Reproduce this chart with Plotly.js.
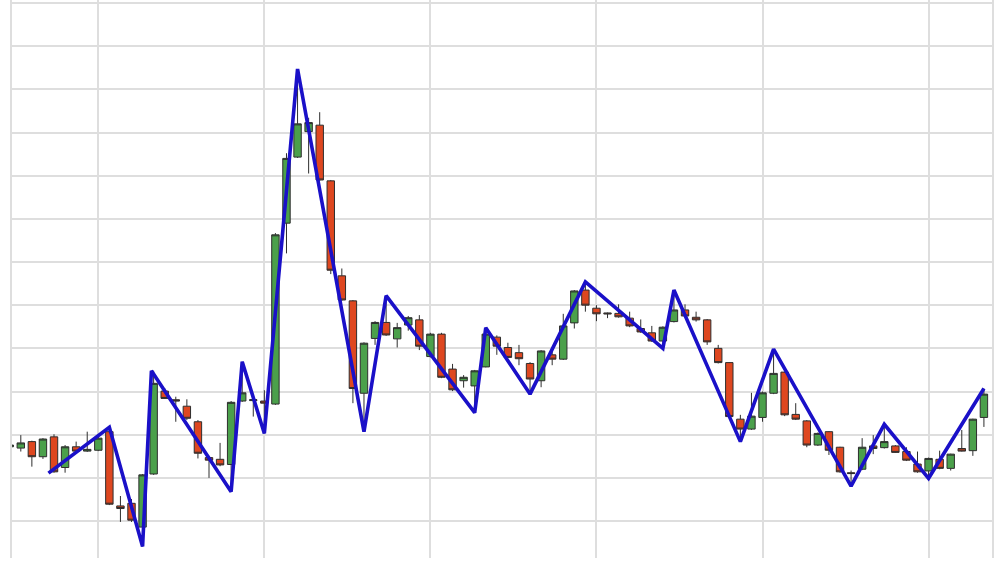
<!DOCTYPE html>
<html>
<head>
<meta charset="utf-8">
<script src="https://cdn.plot.ly/plotly-3.0.1.min.js"></script>
<style>html,body{margin:0;padding:0;background:#fff;}#chart{width:1000px;height:565px;}</style>
</head>
<body>
<div id="chart"></div>
<script>
// candle index (x positions on the category scale)
const idx = [];
for (let i = -1; i <= 87; i++) idx.push(i);

const openV = [27.2,26.9,28.4,24.9,29.5,22.4,27.2,26.2,26.4,30.7,13.5,14.1,8.6,20.9,40.1,38.1,36.6,33.0,24.7,24.3,23.1,37.8,37.9,37.8,37.1,79.0,94.3,100.2,101.7,88.8,66.8,61.0,39.6,52.3,56.0,52.2,55.4,56.6,48.1,53.3,45.2,42.5,41.3,45.7,52.6,50.2,49.0,46.5,42.5,48.5,47.5,55.9,63.5,59.3,58.2,58.1,57.0,54.6,53.6,51.7,56.2,58.9,57.2,56.6,50.0,46.7,33.6,31.3,34.0,39.6,44.5,34.7,33.2,27.6,30.7,27.1,21.2,22.0,27.4,27.0,27.4,26.1,23.2,21.6,24.3,22.2,26.8,26.3,34.0];
const highV = [27.7,29.9,28.6,29.2,30.1,27.6,28.4,30.7,29.7,31.7,15.8,15.1,20.9,44.8,40.8,38.8,38.2,33.4,25.1,28.1,37.8,46.9,38.3,40.3,76.7,95.2,114.7,103.4,104.7,89.0,68.5,61.2,51.4,56.3,62.2,55.9,57.5,57.7,53.6,53.6,46.4,43.8,45.0,54.8,53.0,51.3,50.8,46.8,49.6,50.0,58.0,63.5,65.4,60.0,58.3,60.2,58.5,56.7,55.2,55.1,63.5,60.2,58.5,56.8,50.8,46.8,34.6,39.7,40.0,49.8,44.6,37.3,33.4,30.5,30.8,27.2,21.7,29.2,29.9,32.4,27.6,27.1,26.1,24.7,26.3,25.6,31.1,33.7,40.7];
const lowV = [27.0,26.1,22.6,24.4,21.2,21.2,26.0,26.0,26.2,13.7,9.8,9.8,4.1,20.7,38.3,33.0,33.4,24.5,20.0,22.7,16.8,37.6,34.2,30.3,36.9,72.0,94.1,90.5,88.8,67.2,61.0,37.3,30.7,50.8,52.9,50.2,54.1,49.6,47.9,43.1,40.1,40.9,35.1,45.6,48.5,47.8,46.1,39.4,41.0,46.1,47.3,54.6,58.5,56.3,57.0,57.1,54.9,53.6,51.5,50.0,56.0,57.3,56.2,50.8,46.5,34.0,28.4,31.1,33.0,39.4,34.3,33.4,27.1,27.4,25.3,21.2,18.1,21.8,25.5,26.8,25.8,23.9,21.2,19.9,22.0,21.7,26.1,25.1,31.8];
const closeV = [27.6,28.1,24.9,29.0,21.4,27.2,26.2,26.6,29.2,13.9,12.9,10.2,20.7,41.9,38.4,37.8,33.8,25.7,24.1,23.0,37.5,39.7,38.1,37.3,76.3,94.0,102.0,102.3,89.0,68.1,61.2,40.7,51.2,56.0,53.1,54.8,57.1,50.5,53.3,43.3,40.4,43.3,44.8,53.3,50.5,47.9,47.6,42.9,49.4,47.5,55.2,63.3,60.0,58.0,58.0,57.3,55.2,53.8,51.7,54.9,58.9,57.5,56.6,51.5,46.7,34.2,31.3,34.3,39.7,44.2,34.6,33.6,27.6,30.3,26.4,21.4,21.0,27.1,26.8,28.4,25.9,24.1,21.4,24.5,22.2,25.5,26.2,33.6,39.4];

// zigzag pivots: candle position and price
const zigX = [2.5, 8, 11, 11.8, 19, 20, 22, 25, 31, 33, 41, 42, 46, 51, 58, 59, 65, 68, 75, 78, 82, 87];
const zigY = [21.1, 31.7, 4.1, 44.8, 16.8, 46.9, 30.3, 114.7, 30.7, 62.2, 35.1, 54.8, 39.4, 65.4, 50.0, 63.5, 28.4, 49.8, 18.1, 32.4, 19.9, 40.7];

const candle = {
  type: 'candlestick',
  x: idx, open: openV, high: highV, low: lowV, close: closeV,
  increasing: {line: {color: '#2e2e2e', width: 1}, fillcolor: '#4ba04b'},
  decreasing: {line: {color: '#2e2e2e', width: 1}, fillcolor: '#de4720'},
  whiskerwidth: 0,
  hoverinfo: 'skip',
  showlegend: false
};
const zig = {
  type: 'scatter', mode: 'lines',
  x: zigX, y: zigY,
  line: {color: '#1a10c8', width: 3.6},
  hoverinfo: 'skip',
  showlegend: false
};

const layout = {
  width: 1000, height: 565,
  margin: {l: 12, r: 8, t: 0, b: 7},
  paper_bgcolor: '#ffffff', plot_bgcolor: '#ffffff',
  showlegend: false,
  hovermode: false,
  boxgap: 0.33, boxgroupgap: 0,
  xaxis: {
    range: [-0.795, 87.73],
    tick0: 7, dtick: 15,
    showgrid: true, gridcolor: '#dedede', gridwidth: 2,
    showticklabels: false, zeroline: false, showline: false,
    rangeslider: {visible: false}, fixedrange: true
  },
  yaxis: {
    range: [1.44, 130.69],
    tick0: 0, dtick: 10,
    showgrid: true, gridcolor: '#dedede', gridwidth: 2,
    showticklabels: false, zeroline: false,
    showline: true, mirror: true, linecolor: '#dedede', linewidth: 2,
    fixedrange: true
  }
};

Plotly.newPlot('chart', [candle, zig], layout, {staticPlot: true, displayModeBar: false});
</script>
</body>
</html>
